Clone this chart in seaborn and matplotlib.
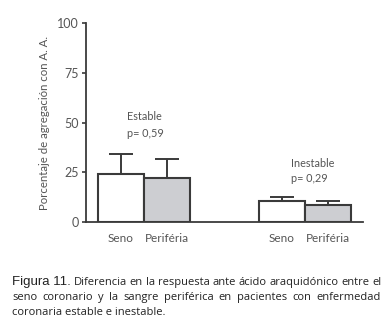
import seaborn as sns
import pandas as pd
import matplotlib.pyplot as plt
from matplotlib.container import BarContainer

sns.set_style('white')
plt.rcParams['font.family'] = ['Lato', 'DejaVu Sans']

# data
grupos = ['Estable', 'Estable', 'Inestable', 'Inestable']
muestras = ['Seno', 'Periféria', 'Seno', 'Periféria']
medias = [24.2, 22.0, 10.5, 8.5]
errores = [10.0, 9.5, 2.2, 2.2]
p_valores = ['p= 0,59', 'p= 0,29']

colors = ['#ffffff', '#cdced2']
edge = '#3a3a3a'
gris = '#555555'

W, H = 391, 330
fig = plt.figure(figsize=(W / 100, H / 100), dpi=100)
ax = fig.add_axes([86 / W, 1 - 222 / H, 277 / W, 199 / H])

df = pd.DataFrame({'grupo': grupos, 'muestra': muestras, 'valor': medias})
sns.barplot(data=df, x='grupo', y='valor', hue='muestra', palette=colors,
            width=0.57, edgecolor=edge, linewidth=1.5, errorbar=None,
            legend=False, saturation=1, ax=ax)

# one-sided error bars on top of each bar
barras = [c for c in ax.containers if isinstance(c, BarContainer)]
centros, etiquetas = [], []
for i, cont in enumerate(barras):
    for j, bar in enumerate(cont.patches):
        k = j * 2 + i
        cx = bar.get_x() + bar.get_width() / 2
        ax.errorbar(cx, medias[k], yerr=[[0], [errores[k]]], fmt='none',
                    ecolor=edge, elinewidth=1.4, capsize=8.6, capthick=1.4,
                    zorder=1)
        centros.append(cx)
        etiquetas.append(muestras[k])

ax.set_xlim(-0.36, 1.36)
ax.set_ylim(0, 100)
ax.set_yticks([0, 25, 50, 75, 100])
ax.set_xticks(centros)
ax.set_xticklabels(etiquetas)
ax.tick_params(axis='x', length=0, pad=8, labelsize=8.5, labelcolor=gris)
ax.tick_params(axis='y', length=3, width=1.2, color=edge, pad=2,
               labelsize=9, labelcolor=gris, left=True)
ax.set_xlabel('')
ax.set_ylabel('Porcentaje de agregación con A. A.', fontsize=8.2, color=gris,
              labelpad=5)
sns.despine(ax=ax)
for s in ['left', 'bottom']:
    ax.spines[s].set_color(edge)
    ax.spines[s].set_linewidth(1.3)

ax.text(-0.106, 52.8, 'Estable', fontsize=7.8, color=gris, va='center')
ax.text(-0.106, 44.7, p_valores[0], fontsize=7.8, color=gris, va='center')
ax.text(0.913, 29.6, 'Inestable', fontsize=7.8, color=gris, va='center')
ax.text(0.913, 22.1, p_valores[1], fontsize=7.8, color=gris, va='center')

# caption, justified line by line
linea1 = ['Diferencia', 'en', 'la', 'respuesta', 'ante', 'ácido', 'araquidónico',
          'entre', 'el']
linea2 = ['seno', 'coronario', 'y', 'la', 'sangre', 'periférica', 'en',
          'pacientes', 'con', 'enfermedad']
linea3 = 'coronaria estable e inestable.'

renderer = fig.canvas.get_renderer()
x0, x1 = 12, 381


def justificar(piezas, y):
    textos = []
    for s, kw in piezas:
        textos.append(fig.text(0, 1 - y / H, s, va='baseline', color='#222222', **kw))
    anchos = [t.get_window_extent(renderer).width for t in textos]
    hueco = (x1 - x0 - sum(anchos)) / (len(textos) - 1)
    x = x0
    for t, w in zip(textos, anchos):
        t.set_x(x / W)
        x += w + hueco


cuerpo = dict(fontsize=8.0, family='Open Sans')
justificar([('Figura 11.', dict(fontsize=9.5, family='Liberation Sans'))]
           + [(w, cuerpo) for w in linea1], 285)
justificar([(w, cuerpo) for w in linea2], 300)
fig.text(x0 / W, 1 - 315 / H, linea3, va='baseline', color='#222222', **cuerpo)

plt.savefig('out.png', dpi=100)
